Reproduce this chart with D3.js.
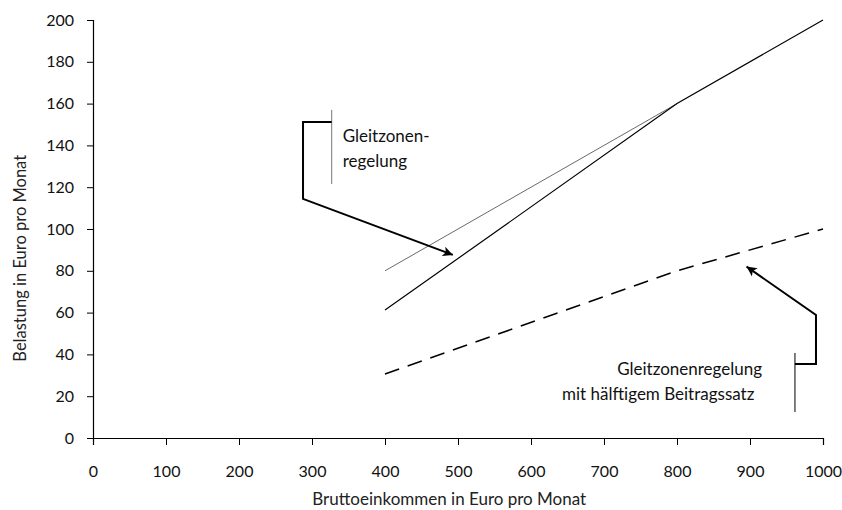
<!DOCTYPE html>
<html>
<head>
<meta charset="utf-8">
<script src="https://cdn.jsdelivr.net/npm/d3@7"></script>
<style>
  html, body { margin: 0; padding: 0; background: #fff; }
  text { font-family: Lato, "Open Sans", sans-serif; }
</style>
</head>
<body>
<svg id="chart" width="842" height="510"></svg>
<script>
// ---- data ----
const xTickValues = [0, 100, 200, 300, 400, 500, 600, 700, 800, 900, 1000];
const yTickValues = [0, 20, 40, 60, 80, 100, 120, 140, 160, 180, 200];
const xTitle = "Bruttoeinkommen in Euro pro Monat";
const yTitle = "Belastung in Euro pro Monat";

// Normal contribution (20 %) in the range 400..800
const incomeNormal = [400, 800];
const burdenNormal = [80, 160];
// Gleitzone (sliding scale) rule
const incomeGleit = [400, 800, 1000];
const burdenGleit = [61.2, 160, 200];
// Gleitzone with half contribution rate
const incomeHalf = [400, 800, 1000];
const burdenHalf = [30.6, 80, 100];

const label1 = ["Gleitzonen-", "regelung"];
const label2 = ["Gleitzonenregelung", "mit hälftigem Beitragssatz"];

// ---- layout ----
const svg = d3.select("#chart");
const x = d3.scaleLinear().domain([0, 1000]).range([93, 823]);
const y = d3.scaleLinear().domain([0, 200]).range([438, 20]);

// axes
const xAxis = svg.append("g").attr("transform", `translate(0,${y(0)})`);
xAxis.call(d3.axisBottom(x).tickValues(d3.range(0, 1001, 50)).tickSize(5).tickFormat(""));
xAxis.call(d3.axisBottom(x).tickValues(xTickValues).tickSize(7).tickPadding(21).tickFormat(d3.format("d")));
xAxis.selectAll(".domain").attr("stroke", "#000").attr("stroke-width", 1.2);
xAxis.selectAll("line").attr("stroke", "#000").attr("stroke-width", 1);
xAxis.selectAll("text").attr("font-size", 16).attr("fill", "#111");

const yAxis = svg.append("g").attr("transform", `translate(${x(0)},0)`);
yAxis.call(d3.axisLeft(y).tickValues(d3.range(0, 201, 4)).tickSize(4).tickFormat(""));
yAxis.call(d3.axisLeft(y).tickValues(yTickValues).tickSize(6).tickPadding(13).tickFormat(d3.format("d")));
yAxis.selectAll(".domain").attr("stroke", "#000").attr("stroke-width", 1.2);
yAxis.selectAll("line").attr("stroke", "#000").attr("stroke-width", 1);
yAxis.selectAll("text").attr("font-size", 16).attr("fill", "#111");

// axis titles
svg.append("text").attr("x", x(488)).attr("y", 505)
  .attr("text-anchor", "middle").attr("font-size", 17).attr("fill", "#222").text(xTitle);
svg.append("text").attr("transform", `translate(26,${y(86)}) rotate(-90)`)
  .attr("text-anchor", "middle").attr("font-size", 16.5).attr("fill", "#222").text(yTitle);

// lines
const line = d3.line().x(d => x(d[0])).y(d => y(d[1]));
svg.append("path").datum(d3.zip(incomeNormal, burdenNormal)).attr("d", line)
  .attr("fill", "none").attr("stroke", "#6a6a6a").attr("stroke-width", 1);
svg.append("path").datum(d3.zip(incomeGleit, burdenGleit)).attr("d", line)
  .attr("fill", "none").attr("stroke", "#000").attr("stroke-width", 1.2);
svg.append("path").datum(d3.zip(incomeHalf, burdenHalf)).attr("d", line)
  .attr("fill", "none").attr("stroke", "#000").attr("stroke-width", 1.5)
  .attr("stroke-dasharray", "15,9");

// arrow marker
svg.append("defs").append("marker")
  .attr("id", "arrow").attr("viewBox", "0 0 10 10").attr("refX", 10).attr("refY", 5)
  .attr("markerWidth", 6).attr("markerHeight", 5).attr("markerUnits", "strokeWidth")
  .attr("orient", "auto")
  .append("path").attr("d", "M0,0 L10,5 L0,10 L2.5,5 Z").attr("fill", "#000");

// callout 1
svg.append("line").attr("x1", x(327)).attr("x2", x(327)).attr("y1", y(157)).attr("y2", y(121.5))
  .attr("stroke", "#777").attr("stroke-width", 1);
svg.append("path").datum([[327, 151.2], [287.7, 151.2], [287.7, 114.4], [493, 87.6]])
  .attr("d", line).attr("fill", "none").attr("stroke", "#000").attr("stroke-width", 2)
  .attr("marker-end", "url(#arrow)");
svg.append("g").selectAll("text").data(label1).join("text")
  .attr("x", x(342)).attr("y", (d, i) => y(141.6) + i * 25)
  .attr("font-size", 17).attr("fill", "#111").text(d => d);

// callout 2
svg.append("line").attr("x1", x(961.6)).attr("x2", x(961.6)).attr("y1", y(40.7)).attr("y2", y(12.4))
  .attr("stroke", "#000").attr("stroke-width", 1);
svg.append("path").datum([[961.6, 35.4], [990.4, 35.4], [990.4, 58.9], [895.3, 82]])
  .attr("d", line).attr("fill", "none").attr("stroke", "#000").attr("stroke-width", 2)
  .attr("marker-end", "url(#arrow)");
svg.append("text").attr("x", x(718)).attr("y", y(30.1))
  .attr("font-size", 17).attr("fill", "#111").text(label2[0]);
svg.append("text").attr("x", x(642.5)).attr("y", y(18.2))
  .attr("font-size", 17).attr("fill", "#111").text(label2[1]);
</script>
</body>
</html>
